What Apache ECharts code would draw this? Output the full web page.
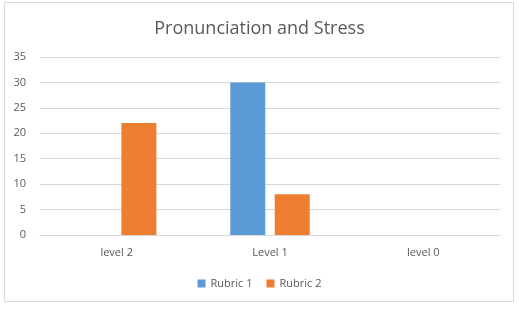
<!DOCTYPE html>
<html lang="en">
<head>
    <meta charset="UTF-8">
    <title>Pronunciation and Stress</title>
    <script src="https://cdn.jsdelivr.net/npm/echarts@6/dist/echarts.min.js"></script>
    <style>
        html, body { margin: 0; padding: 0; background: #fff; }
        #cc { width: 519px; height: 310px; }
    </style>
</head>
<body>
<div id="cc"></div>
<script>
var categories = ['level 2', 'Level 1', 'level 0'];
var rubric1 = [0, 30, 0];
var rubric2 = [22, 8, 0];

var chart = echarts.init(document.getElementById('cc'));

chart.setOption({
    animation: false,
    textStyle: { fontFamily: 'Open Sans, Noto Sans, sans-serif' },
    graphic: [{
        type: 'rect',
        shape: { x: 4.5, y: 2.5, width: 509, height: 299 },
        style: { fill: 'none', stroke: '#d9d9d9', lineWidth: 1 },
        silent: true
    }],
    title: {
        text: 'Pronunciation and Stress',
        left: 'center',
        top: 15,
        textStyle: { fontSize: 18, fontWeight: 'normal', color: '#595959' }
    },
    legend: {
        bottom: 16,
        left: 'center',
        itemWidth: 8,
        itemHeight: 8,
        itemGap: 14,
        icon: 'rect',
        textStyle: { fontSize: 11, color: '#595959' },
        data: ['Rubric 1', 'Rubric 2']
    },
    grid: { left: 40, right: 19, top: 57, bottom: 75 },
    xAxis: {
        type: 'category',
        data: categories,
        axisTick: { show: false },
        axisLine: { lineStyle: { color: '#d9d9d9' } },
        axisLabel: { color: '#595959', fontSize: 11, margin: 12 }
    },
    yAxis: {
        type: 'value',
        min: 0,
        max: 35,
        interval: 5,
        axisLine: { show: false },
        axisTick: { show: false },
        splitLine: { lineStyle: { color: '#d9d9d9' } },
        axisLabel: { color: '#595959', fontSize: 11, margin: 14 }
    },
    series: [{
        name: 'Rubric 1',
        type: 'bar',
        data: rubric1,
        barWidth: 35,
        barGap: '27%',
        itemStyle: { color: '#5b9bd5' }
    }, {
        name: 'Rubric 2',
        type: 'bar',
        data: rubric2,
        barWidth: 35,
        itemStyle: { color: '#ed7d31' }
    }]
});
</script>
</body>
</html>
